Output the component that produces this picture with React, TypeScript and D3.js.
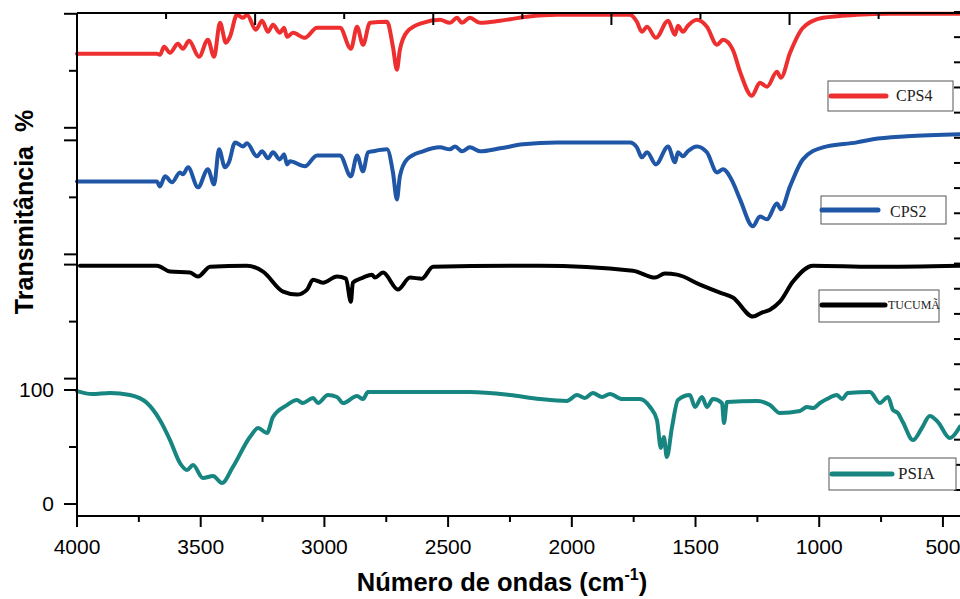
import React from 'react';
import * as d3 from 'd3';

// FTIR spectra: [wavenumber (cm-1), transmittance (%)]
const psiaData: [number, number][] = [
  [4000, 99.1], [3939, 96.5], [3867, 97.4], [3786, 95.6], [3717, 88.6], [3665, 73.7],
  [3624, 56.1], [3584, 36.0], [3555, 29.8], [3531, 34.2], [3491, 22.8], [3450, 24.6],
  [3414, 18.4], [3370, 32.5], [3301, 58.8], [3268, 66.7], [3232, 62.3], [3208, 76.3],
  [3151, 86.8], [3111, 91.2], [3087, 88.6], [3046, 93.0], [3026, 88.6], [2986, 95.6],
  [2949, 93.9], [2925, 88.6], [2868, 94.7], [2844, 92.1], [2824, 98.2], [2682, 98.2],
  [2412, 98.2], [2250, 95.6], [2129, 92.1], [2020, 90.4], [1979, 95.6], [1947, 93.0],
  [1915, 97.4], [1878, 93.9], [1846, 96.5], [1797, 92.1], [1725, 92.1], [1684, 85.1],
  [1656, 73.7], [1640, 49.1], [1628, 58.8], [1616, 41.2], [1595, 67.5], [1571, 91.2],
  [1523, 95.6], [1502, 85.1], [1474, 93.9], [1454, 85.1], [1430, 92.1], [1393, 88.6],
  [1385, 71.1], [1373, 89.5], [1252, 90.4], [1199, 86.8], [1159, 79.8], [1078, 81.6],
  [1050, 85.1], [1025, 84.2], [997, 88.6], [969, 92.1], [928, 95.6], [908, 92.1],
  [884, 97.4], [795, 98.2], [755, 88.6], [722, 93.9], [702, 82.5], [682, 79.8],
  [662, 71.9], [621, 56.1], [585, 66.7], [553, 77.2], [520, 71.9], [472, 57.9],
  [440, 64.9], [431, 68.0],
];

const tucumaData: [number, number][] = [
  [3988, 99.1], [3677, 99.1], [3624, 93.9], [3543, 93.0], [3511, 89.5], [3462, 98.2],
  [3313, 99.1], [3248, 93.9], [3167, 76.3], [3111, 73.7], [3070, 78.1], [3046, 86.8],
  [3006, 84.2], [2949, 89.5], [2913, 87.7], [2893, 67.5], [2885, 84.2], [2844, 88.6],
  [2808, 91.2], [2796, 88.6], [2763, 93.0], [2703, 78.1], [2654, 88.6], [2606, 87.7],
  [2561, 98.2], [2250, 99.1], [2129, 99.1], [1753, 94.7], [1664, 88.6], [1624, 92.1],
  [1575, 91.2], [1482, 82.5], [1401, 75.4], [1349, 71.1], [1268, 54.4], [1232, 57.9],
  [1199, 60.5], [1159, 67.5], [1106, 85.1], [1025, 99.1], [783, 98.2], [431, 99.1],
];

const cps2Data: [number, number][] = [
  [4000, 64.0], [3677, 64.0], [3665, 59.6], [3644, 68.4], [3616, 63.2], [3584, 71.9],
  [3572, 70.2], [3551, 76.3], [3511, 58.8], [3471, 74.6], [3446, 61.4], [3426, 92.1],
  [3402, 76.3], [3386, 80.7], [3361, 98.2], [3329, 94.7], [3313, 97.4], [3273, 86.0],
  [3252, 90.4], [3228, 84.2], [3208, 89.5], [3180, 83.3], [3163, 87.7], [3151, 78.9],
  [3139, 81.6], [3079, 77.2], [3030, 86.8], [2937, 86.8], [2893, 68.4], [2868, 86.8],
  [2844, 72.8], [2824, 89.5], [2804, 90.4], [2747, 92.1], [2723, 71.9], [2707, 48.2],
  [2695, 68.4], [2666, 83.3], [2602, 90.4], [2533, 93.9], [2493, 92.1], [2472, 94.7],
  [2444, 90.4], [2412, 93.9], [2371, 90.4], [2290, 93.0], [2197, 96.5], [2060, 98.2],
  [1765, 98.2], [1737, 93.9], [1717, 85.1], [1696, 89.5], [1660, 78.9], [1611, 94.7],
  [1583, 80.7], [1571, 89.5], [1551, 86.0], [1531, 90.4], [1494, 94.7], [1454, 89.5],
  [1413, 71.9], [1389, 74.6], [1349, 63.2], [1320, 48.2], [1268, 24.6], [1240, 33.3],
  [1211, 30.7], [1171, 44.7], [1155, 39.5], [1118, 59.6], [1066, 83.3], [985, 93.9],
  [848, 98.2], [783, 100.9], [646, 103.5], [431, 105.3],
];

const cps4Data: [number, number][] = [
  [4000, 64.9], [3677, 64.9], [3665, 64.0], [3648, 71.1], [3624, 65.8], [3592, 73.7],
  [3572, 69.3], [3547, 76.3], [3507, 62.3], [3471, 77.2], [3446, 62.3], [3422, 92.1],
  [3398, 74.6], [3382, 79.8], [3353, 99.1], [3329, 96.5], [3313, 99.1], [3277, 86.0],
  [3252, 93.9], [3228, 84.2], [3208, 90.4], [3180, 83.3], [3163, 87.7], [3151, 79.8],
  [3127, 83.3], [3079, 78.9], [3030, 87.7], [2937, 87.7], [2893, 69.3], [2868, 88.6],
  [2844, 72.8], [2816, 92.1], [2747, 93.0], [2723, 71.1], [2707, 50.9], [2695, 68.4],
  [2666, 84.2], [2602, 92.1], [2533, 94.7], [2493, 92.1], [2464, 96.5], [2444, 92.1],
  [2412, 96.5], [2371, 92.1], [2290, 93.9], [2181, 97.4], [2060, 99.1], [1765, 99.1],
  [1737, 93.0], [1717, 84.2], [1696, 88.6], [1660, 78.9], [1611, 93.9], [1583, 81.6],
  [1571, 89.5], [1551, 84.2], [1531, 89.5], [1494, 94.7], [1454, 88.6], [1413, 72.8],
  [1389, 77.2], [1349, 68.4], [1320, 49.1], [1272, 28.1], [1240, 39.5], [1211, 36.0],
  [1171, 49.1], [1155, 43.9], [1118, 65.8], [1066, 87.7], [985, 96.5], [848, 99.1],
  [714, 100], [431, 100],
];

// vertical stacking offset of each spectrum (in % units)
const seriesNames = ['CPS4', 'CPS2', 'TUCUMÃ', 'PSIA'];
const seriesOffsets = [330, 219, 110, 0];

const xTickLabels = [4000, 3500, 3000, 2500, 2000, 1500, 1000, 500];
const xMinorTicks = [3750, 3250, 2750, 2250, 1750, 1250, 750];
const topMajorTicks = [3280, 2560, 1840, 1120];
const topMinorTicks = [3640, 2920, 2200, 1480, 760];
const yTickLabels = [0, 100];
const rightTicks = d3.range(0, 20);

const W = 960;
const H = 599;

const colors = ['#ee2f2f', '#1f56a6', '#000000', '#178580'];

const legends = [
  { box: [828, 81, 125, 30], line: [831, 886, 96], text: [896, 101], size: 16 },
  { box: [821, 196, 125, 28], line: [822, 878, 210], text: [890, 217], size: 16 },
  { box: [819, 290, 120, 32], line: [822, 885, 305], text: [888, 309], size: 12 },
  { box: [829, 458, 127, 32], line: [832, 892, 474], text: [898, 479], size: 17 },
];

export default function App() {
  const x = d3.scaleLinear().domain([4000, 431]).range([77, 960]);
  const y = d3.scaleLinear().domain([-10.5, 430.7]).range([516, 13]);
  const yRight = d3.scaleLinear().domain([0, 19]).range([490, 12]);
  const [left, right] = x.range();
  const [bottom, top] = y.range();

  const series = [cps4Data, cps2Data, tucumaData, psiaData];

  const line = (off: number) =>
    d3
      .line<[number, number]>()
      .x(d => x(d[0]))
      .y(d => y(d[1] + off))
      .curve(d3.curveMonotoneX);

  const sans = '"Liberation Sans", Arial, sans-serif';
  const serif = '"Liberation Serif", "Times New Roman", serif';

  return (
    <svg
      width={W}
      height={H}
      style={{ position: 'absolute', left: 0, top: 0, background: '#fff' }}
    >
      <rect width={W} height={H} fill="#fff" />

      {/* spectra, sorted so x increases left to right for the monotone curve */}
      {series.map((data, i) => (
        <path
          key={seriesNames[i]}
          d={line(seriesOffsets[i])(data.slice().sort((a, b) => b[0] - a[0])) || ''}
          fill="none"
          stroke={colors[i]}
          strokeWidth={4}
          strokeLinejoin="round"
          strokeLinecap="round"
        />
      ))}

      {/* frame */}
      <line x1={left} x2={right} y1={bottom} y2={bottom} stroke="#000" strokeWidth={2} />
      <line x1={left} x2={right} y1={top} y2={top} stroke="#000" strokeWidth={2} />
      <line x1={left} x2={left} y1={top} y2={bottom + 1} stroke="#000" strokeWidth={2} />

      {/* bottom axis */}
      {xTickLabels.map(t => (
        <g key={'xt' + t}>
          <line x1={x(t)} x2={x(t)} y1={bottom} y2={bottom + 11} stroke="#000" strokeWidth={2} />
          <text x={x(t)} y={554} textAnchor="middle" fontFamily={sans} fontSize={21}>
            {t}
          </text>
        </g>
      ))}
      {xMinorTicks.map(t => (
        <line key={'xm' + t} x1={x(t)} x2={x(t)} y1={bottom} y2={bottom + 6} stroke="#000" strokeWidth={2} />
      ))}

      {/* top axis */}
      {topMajorTicks.map(t => (
        <line key={'tM' + t} x1={x(t)} x2={x(t)} y1={top} y2={top + 12} stroke="#000" strokeWidth={2} />
      ))}
      {topMinorTicks.map(t => (
        <line key={'tm' + t} x1={x(t)} x2={x(t)} y1={top} y2={top + 6} stroke="#000" strokeWidth={2} />
      ))}

      {/* left axis, one set of ticks per stacked panel */}
      {seriesOffsets.map(off => (
        <g key={'yl' + off}>
          {[0, 100].map(v => (
            <line key={v} x1={left - 13} x2={left} y1={y(off + v)} y2={y(off + v)} stroke="#000" strokeWidth={2} />
          ))}
          <line x1={left - 8} x2={left} y1={y(off + 50)} y2={y(off + 50)} stroke="#000" strokeWidth={2} />
        </g>
      ))}
      {yTickLabels.map(t => (
        <text
          key={'yt' + t}
          x={54}
          y={y(t)}
          dy="0.35em"
          textAnchor="end"
          fontFamily={sans}
          fontSize={21}
        >
          {t}
        </text>
      ))}

      {/* right axis ticks */}
      {rightTicks.map(t => (
        <line key={'r' + t} x1={right - 6} x2={right} y1={yRight(t)} y2={yRight(t)} stroke="#000" strokeWidth={2} />
      ))}

      {/* axis titles */}
      <text
        x={502}
        y={591}
        textAnchor="middle"
        fontFamily={sans}
        fontWeight="bold"
        fontSize={25.5}
      >
        Número de ondas (cm
        <tspan fontSize={16} dy={-11}>-1</tspan>
        <tspan dy={11}>)</tspan>
      </text>
      <text
        transform="translate(33,212) rotate(-90)"
        textAnchor="middle"
        fontFamily={sans}
        fontWeight="bold"
        fontSize={25}
        style={{ whiteSpace: 'pre' }}
      >
        {'Transmitância  %'}
      </text>

      {/* legends */}
      {legends.map((l, i) => (
        <g key={'lg' + i}>
          <rect x={l.box[0]} y={l.box[1]} width={l.box[2]} height={l.box[3]} fill="#fff" stroke="#555" strokeWidth={1} />
          <line
            x1={l.line[0]}
            x2={l.line[1]}
            y1={l.line[2]}
            y2={l.line[2]}
            stroke={colors[i]}
            strokeWidth={5}
            strokeLinecap="round"
          />
          <text x={l.text[0]} y={l.text[1]} fontFamily={serif} fontSize={l.size} fill="#222">
            {seriesNames[i]}
          </text>
        </g>
      ))}
    </svg>
  );
}
